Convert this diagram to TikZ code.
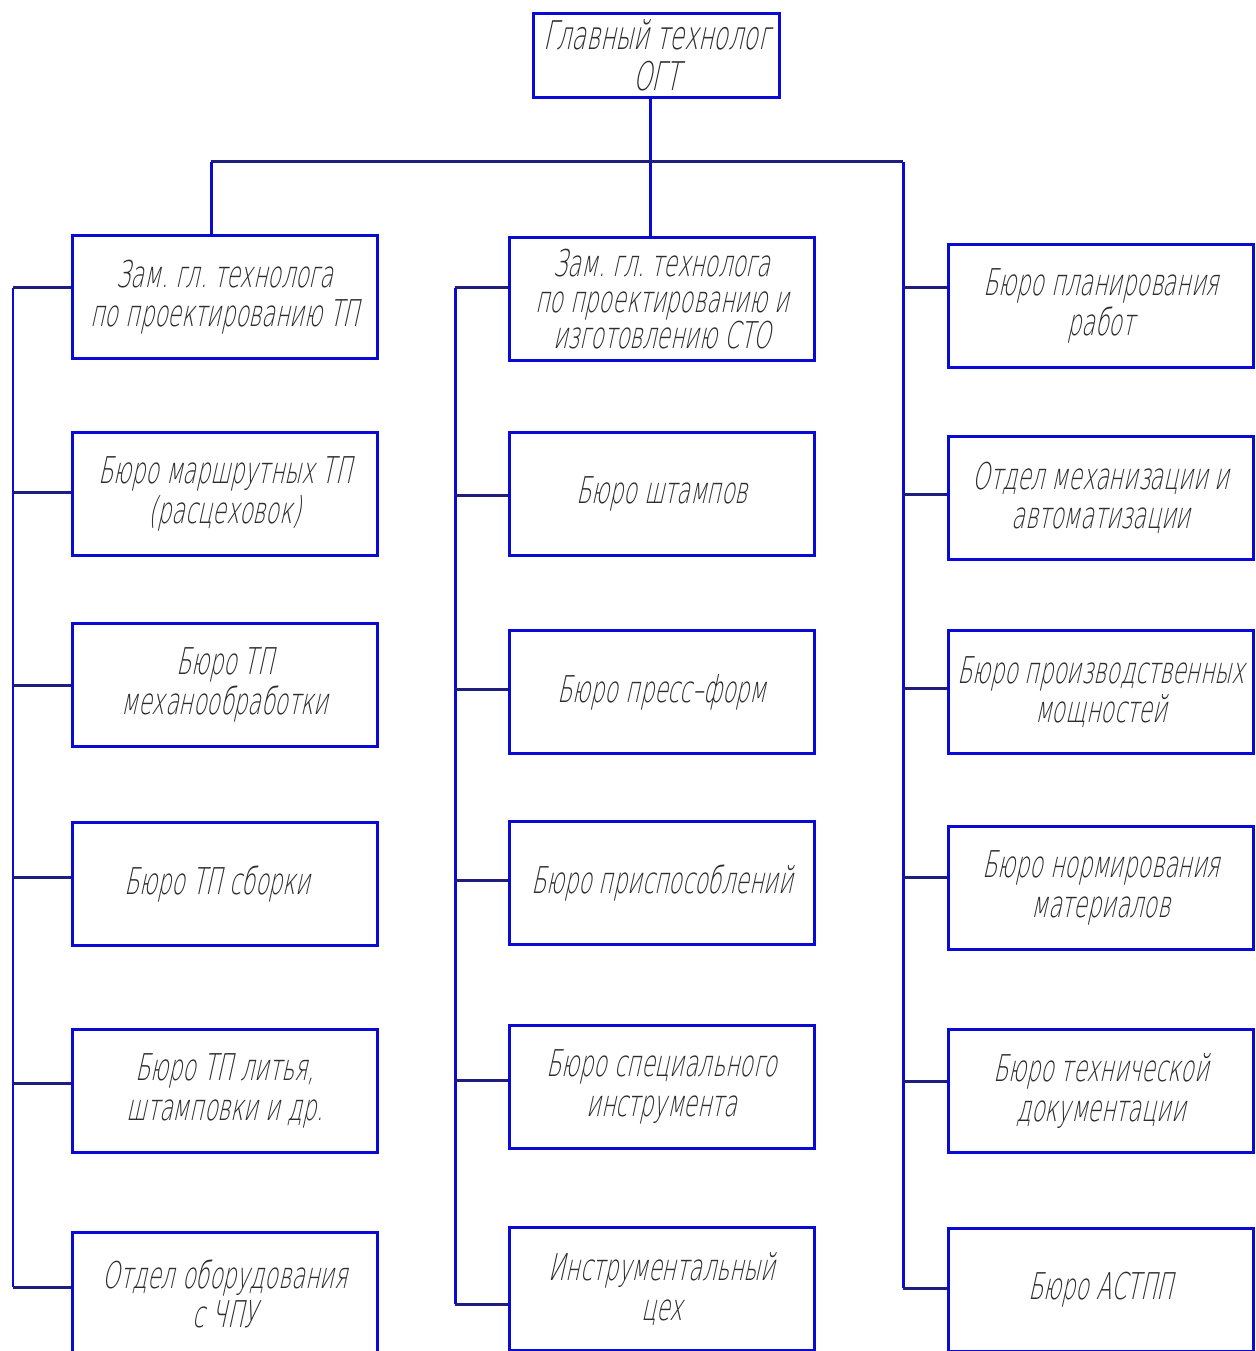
\documentclass[tikz,border=0pt]{standalone}
\usepackage{fontspec}
\setmainfont{DejaVuSans-ExtraLight.ttf}[FakeStretch=0.6, FakeSlant=0.22]
\frenchspacing
\definecolor{boxblue}{RGB}{10,10,215}
\definecolor{linknavy}{RGB}{30,30,125}
\definecolor{textgray}{RGB}{45,45,45}
\tikzset{
  unit/.style={draw=boxblue, line width=0.06cm, fill=white, inner sep=0pt,
    minimum width=6.12cm, minimum height=2.46cm, align=center,
    text=textgray, font=\fontsize{21}{22.5}\selectfont},
  bus/.style={draw=boxblue, line width=0.06cm},
  tie/.style={draw=linknavy, line width=0.06cm},
}
\begin{document}
\begin{tikzpicture}[x=0.02cm, y=-0.02cm]
\useasboundingbox (0,0) rectangle (1255,1351);

% head of the department
\node[unit, minimum width=4.94cm, minimum height=1.7cm,
  font=\fontsize{22.5}{23.5}\selectfont] (top) at (656.5,55.5)
  {Главный технолог\\ОГТ};

% left column
\node[unit] (l0) at (225,297) {Зам. гл. технолога\\по проектированию ТП};
\node[unit] (l1) at (225,494) {Бюро маршрутных ТП\\(расцеховок)};
\node[unit] (l2) at (225,685) {Бюро ТП\\механообработки};
\node[unit] (l3) at (225,884) {Бюро ТП сборки\hspace*{0.3cm}};
\node[unit] (l4) at (225,1091) {Бюро ТП литья,\\штамповки и др.};
\node[unit] (l5) at (225,1294) {Отдел оборудования\\с ЧПУ};

% middle column
\node[unit, font=\fontsize{21}{20.5}\selectfont] (m0) at (662,299)
  {Зам. гл. технолога\\по проектированию и\\изготовлению СТО};
\node[unit] (m1) at (662,494) {Бюро штампов};
\node[unit] (m2) at (662,692) {Бюро пресс–форм};
\node[unit] (m3) at (662,883) {Бюро приспособлений};
\node[unit] (m4) at (662,1087) {Бюро специального\\инструмента};
\node[unit] (m5) at (662,1289) {Инструментальный\\цех};

% right column
\node[unit, minimum width=6.1cm] (r0) at (1101,306) {Бюро планирования\\работ};
\node[unit, minimum width=6.1cm] (r1) at (1101,498) {Отдел механизации и\\автоматизации};
\node[unit, minimum width=6.1cm] (r2) at (1101,692) {Бюро производственных\\мощностей};
\node[unit, minimum width=6.1cm] (r3) at (1101,888) {Бюро нормирования\\материалов};
\node[unit, minimum width=6.1cm] (r4) at (1101,1091) {Бюро технической\\документации};
\node[unit, minimum width=6.1cm] (r5) at (1101,1290) {Бюро АСТПП};

% main distribution bus
\coordinate (tb) at (650,162);
\coordinate (lb) at (211,162);
\coordinate (rb) at (903,162);
\draw[bus] (top.south -| tb) -- (tb) -- (m0.north -| tb);
\draw[tie] (lb) -- (rb);
\draw[bus] (lb) -- (l0.north -| lb);

% left bus and its branches
\coordinate (la) at (13,288);
\coordinate (lz) at (13,1287);
\draw[bus] (la) -- (lz);
\foreach \n/\y in {l0/288, l1/492, l2/685, l3/877, l4/1083, l5/1287}
  \draw[tie] (\n.west |- 0,\y) -- (13,\y);

% middle bus and its branches
\coordinate (ma) at (455,288);
\coordinate (mz) at (455,1304);
\draw[bus] (ma) -- (mz);
\foreach \n/\y in {m0/288, m1/495, m2/689, m3/880, m4/1080, m5/1304}
  \draw[tie] (\n.west |- 0,\y) -- (455,\y);

% right bus and its branches
\coordinate (rz) at (903,1288);
\draw[bus] (rb) -- (rz);
\foreach \n/\y in {r0/288, r1/494, r2/688, r3/877, r4/1081, r5/1288}
  \draw[tie] (\n.west |- 0,\y) -- (903,\y);
\end{tikzpicture}
\end{document}
